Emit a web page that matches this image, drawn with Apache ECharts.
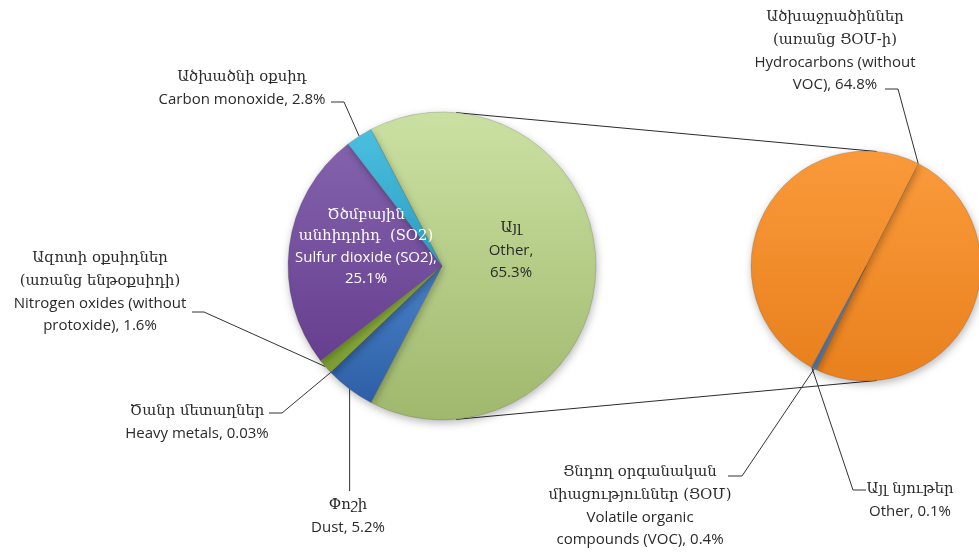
<!DOCTYPE html>
<html>
<head>
<meta charset="utf-8">
<script src="https://cdn.jsdelivr.net/npm/echarts@6/dist/echarts.min.js"></script>
<style>
html,body{margin:0;padding:0;background:#fff;}
#chart{width:979px;height:554px;}
</style>
</head>
<body>
<div id="chart"></div>
<script>
// ---- data (main pie, clockwise from the split slice) ----
const mainHy = ['Այլ', 'Փոշի', 'Ծանր մետաղներ', 'Ազոտի օքսիդներ\n(առանց ենթօքսիդի)', 'Ծծմբային\nանհիդրիդ  (SO2)', 'Ածխածնի օքսիդ'];
const mainEn = ['Other,\n{v}', 'Dust, {v}', 'Heavy metals, {v}', 'Nitrogen oxides (without\nprotoxide), {v}', 'Sulfur dioxide (SO2),\n{v}', 'Carbon monoxide, {v}'];
const mainValues = [65.3, 5.2, 0.03, 1.6, 25.1, 2.8];

// ---- data (secondary pie: breakdown of "Other") ----
const subHy = ['Ածխաջրածիններ\n(առանց ՑՕՄ-ի)', 'Ցնդող օրգանական\nմիացություններ (ՑՕՄ)', 'Այլ նյութեր'];
const subEn = ['Hydrocarbons (without\nVOC), {v}', 'Volatile organic\ncompounds (VOC), {v}', 'Other, {v}'];
const subValues = [64.8, 0.4, 0.1];
// the hydrocarbons wedge is drawn in two orange pieces in the reference
const hydroPieces = [32.4, 32.4];

// ---- styles ----
const mainColors = [['#cbe1a3', '#9fb86c'], ['#4a82c8', '#2d5fa6'], ['#c0504d', '#a03c3a'], ['#98bd45', '#7a9c32'], ['#8462ad', '#663f8f'], ['#4cc0e0', '#2a9cc2']];
const subColors = { hydro: ['#fa9a3a', '#e9801e'], voc: ['#86a3c8', '#5d7fac'], other: ['#9fb3cc', '#7890b0'] };
const hyFont = "'DejaVu Serif', serif";
const enFont = "'Open Sans', Lato, sans-serif";
const textColor = '#2a2a2a';

// ---- geometry ----
const C1 = [442, 266], R1 = 154;
const C2 = [866, 266], R2 = 115;
const mainTotal = mainValues.reduce((a, b) => a + b, 0);
const mainStart = mainValues[0] / mainTotal * 180;   // split slice centred at 3 o'clock
const subStart = 63;

function edge(c, r, cw) { const a = cw * Math.PI / 180; return [c[0] + r * Math.sin(a), c[1] - r * Math.cos(a)]; }
function midAngles(values, startMath) {
  const tot = values.reduce((a, b) => a + b, 0); let cum = 0; const out = [];
  const s = 90 - startMath;
  values.forEach(v => { out.push(s + (cum + v / 2) / tot * 360); cum += v; });
  return out;
}
const mainMid = midAngles(mainValues, mainStart);
const subSeriesValues = [hydroPieces[0], subValues[1], subValues[2], hydroPieces[1]];
const subMid = midAngles(subSeriesValues, subStart);

function fmtLabel(hy, en, v, white) {
  const a = white ? 'hyw' : 'hy', b = white ? 'enw' : 'en';
  const hyL = hy.split('\n').map(s => '{' + a + '|' + s + '}');
  const enL = en.replace('{v}', v + '%').split('\n').map(s => '{' + b + '|' + s + '}');
  return hyL.concat(enL).join('\n');
}
const rich = {
  hy: { fontFamily: hyFont, fontSize: 14.8, color: textColor, lineHeight: 23 },
  en: { fontFamily: enFont, fontSize: 15, color: textColor, lineHeight: 22 },
  hyw: { fontFamily: hyFont, fontSize: 14.8, color: '#ffffff', lineHeight: 21 },
  enw: { fontFamily: enFont, fontSize: 15, color: '#ffffff', lineHeight: 21 }
};
function grad(c) { return { type: 'linear', x: 0, y: 0, x2: 0, y2: 1, colorStops: [{ offset: 0, color: c[0] }, { offset: 1, color: c[1] }] }; }

// label placement (block centre) and leader bends
const mainLabelPos = [
  { x: 511, y: 250, line: null },
  { x: 348, y: 516, line: (e) => [e, [e[0], 491], [e[0], 491]] },
  { x: 197, y: 422, line: (e) => [e, [282, 413], [269, 413]] },
  { x: 100, y: 292, line: (e) => [e, [204, 312], [192, 312]] },
  { x: 366, y: 247, line: null },
  { x: 242, y: 88, line: (e) => [e, [344, 102], [331, 102]] }
];
const subLabelPos = [
  { x: 835, y: 51, line: () => [edge(C2, R2, 90 - subStart), [898, 89], [885, 89]] },
  { x: 640, y: 506, line: (e) => [e, [742, 476], [728, 476]] },
  { x: 910, y: 500, line: (e) => [e, [853, 490], [866, 490]] },
  null
];

const mainData = mainValues.map((v, i) => ({
  value: v,
  name: mainEn[i],
  itemStyle: { color: grad(mainColors[i]) },
  label: { formatter: fmtLabel(mainHy[i], mainEn[i], v, i === 4) },
  labelLine: { show: mainLabelPos[i].line !== null }
}));

const subData = [
  { value: subSeriesValues[0], name: 'hydro-a', itemStyle: { color: grad(subColors.hydro) }, label: { formatter: fmtLabel(subHy[0], subEn[0], subValues[0]) } },
  { value: subSeriesValues[1], name: 'voc', itemStyle: { color: grad(subColors.voc) }, label: { formatter: fmtLabel(subHy[1], subEn[1], subValues[1]) } },
  { value: subSeriesValues[2], name: 'other', itemStyle: { color: grad(subColors.other) }, label: { formatter: fmtLabel(subHy[2], subEn[2], subValues[2]) } },
  { value: subSeriesValues[3], name: 'hydro-b', itemStyle: { color: grad(subColors.hydro) }, label: { show: false }, labelLine: { show: false } }
];

// external tangents joining the two pies
function tangents() {
  const dx = C2[0] - C1[0], dy = C2[1] - C1[1], D = Math.hypot(dx, dy);
  const ux = dx / D, uy = dy / D, ct = (R1 - R2) / D, st = Math.sqrt(1 - ct * ct);
  const out = [];
  [-1, 1].forEach(sg => {
    const nx = ux * ct + sg * uy * st, ny = uy * ct + sg * ux * st;
    out.push({ type: 'line', silent: true, z: 0,
      shape: { x1: C1[0] + R1 * nx, y1: C1[1] + R1 * ny, x2: C2[0] + R2 * nx, y2: C2[1] + R2 * ny },
      style: { stroke: '#2b2b2b', lineWidth: 1 } });
  });
  return out;
}

const baseItem = { borderColor: 'rgba(60,60,60,0.25)', borderWidth: 0.8, shadowBlur: 8, shadowColor: 'rgba(0,0,0,0.28)', shadowOffsetX: 1, shadowOffsetY: 3 };
const lineStyle = { color: '#333333', width: 1 };

const chart = echarts.init(document.getElementById('chart'), null, { renderer: 'canvas' });
chart.setOption({
  backgroundColor: '#ffffff',
  animation: false,
  graphic: tangents(),
  series: [
    {
      type: 'pie', center: C1, radius: R1, startAngle: mainStart, clockwise: true,
      avoidLabelOverlap: false, silent: true,
      itemStyle: baseItem,
      label: { show: true, position: 'outside', rich: rich, align: 'center' },
      labelLine: { show: true, lineStyle: lineStyle, smooth: false },
      labelLayout: (p) => {
        const L = mainLabelPos[p.dataIndex];
        const res = { x: L.x, y: L.y, align: 'center', verticalAlign: 'middle' };
        if (L.line) res.labelLinePoints = L.line(edge(C1, R1, mainMid[p.dataIndex]));
        return res;
      },
      data: mainData
    },
    {
      type: 'pie', center: C2, radius: R2, startAngle: subStart, clockwise: true,
      avoidLabelOverlap: false, silent: true,
      itemStyle: baseItem,
      label: { show: true, position: 'outside', rich: rich, align: 'center' },
      labelLine: { show: true, lineStyle: lineStyle, smooth: false },
      labelLayout: (p) => {
        const L = subLabelPos[p.dataIndex];
        if (!L) return {};
        return { x: L.x, y: L.y, align: 'center', verticalAlign: 'middle', labelLinePoints: L.line(edge(C2, R2, subMid[p.dataIndex])) };
      },
      data: subData
    }
  ]
});
</script>
</body>
</html>
